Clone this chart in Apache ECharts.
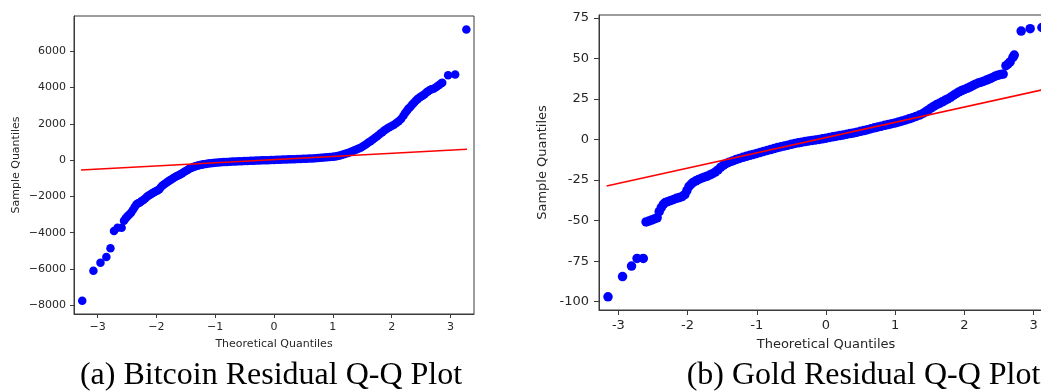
<!DOCTYPE html>
<html>
<head>
<meta charset="utf-8">
<script src="https://cdn.jsdelivr.net/npm/echarts@6/dist/echarts.min.js"></script>
<style>
html,body{margin:0;padding:0;background:#fff;}
#chart{width:1041px;height:392px;}
</style>
</head>
<body>
<div id="chart"></div>
<script>
// ---------- Data ----------
const xTickValues = [-3, -2, -1, 0, 1, 2, 3];
const btcYTicks = [-8000, -6000, -4000, -2000, 0, 2000, 4000, 6000];
const goldYTicks = [-100, -75, -50, -25, 0, 25, 50, 75];

const btcTheoretical = [
  -3.26, -3.07, -2.95, -2.85, -2.78, -2.72, -2.66, -2.59,
  -2.55, -2.52, -2.49, -2.46, -2.43, -2.40, -2.37, -2.34, -2.31, -2.28, -2.25, -2.22,
  -2.19, -2.16, -2.13, -2.10, -2.07, -2.04, -2.01, -1.98, -1.95, -1.92, -1.89, -1.86,
  -1.83, -1.80, -1.77, -1.74, -1.71, -1.68, -1.65, -1.62, -1.59, -1.56, -1.53, -1.50,
  -1.47, -1.44, -1.41, -1.38, -1.35, -1.32, -1.29, -1.26, -1.23, -1.20, -1.16, -1.12,
  -1.08, -1.04, -1.00, -0.95, -0.90, -0.85, -0.80, -0.75, -0.70, -0.65, -0.60, -0.55,
  -0.50, -0.45, -0.40, -0.35, -0.30, -0.25, -0.20, -0.15, -0.10, -0.05, 0.00, 0.05,
  0.10, 0.15, 0.20, 0.25, 0.30, 0.35, 0.40, 0.45, 0.50, 0.55, 0.60, 0.65, 0.70, 0.75,
  0.80, 0.85, 0.90, 0.95, 1.00, 1.04, 1.08, 1.12, 1.16, 1.20, 1.24, 1.28, 1.32, 1.36,
  1.40, 1.44, 1.48, 1.52, 1.56, 1.60, 1.64, 1.68, 1.72, 1.76, 1.80, 1.84, 1.88, 1.92,
  1.96, 2.00, 2.04, 2.08, 2.12, 2.16, 2.20, 2.23, 2.26, 2.29, 2.32, 2.35, 2.38, 2.41,
  2.44, 2.47, 2.50, 2.53, 2.56, 2.59, 2.62, 2.65, 2.68, 2.72, 2.76, 2.80, 2.84, 2.86,
  2.96, 3.08, 3.27
];
const btcSample = [
  -7744, -6092, -5652, -5340, -4863, -3909, -3725, -3725,
  -3340, -3200, -3100, -3000, -2900, -2750, -2600, -2450, -2380, -2330, -2260, -2200,
  -2110, -2020, -1950, -1890, -1830, -1770, -1720, -1670, -1600, -1480, -1390, -1320,
  -1250, -1180, -1110, -1050, -990, -930, -880, -830, -780, -720, -660, -600,
  -540, -480, -430, -390, -350, -320, -295, -270, -250, -230, -210, -190,
  -175, -160, -145, -130, -118, -108, -98, -90, -82, -75, -68, -61,
  -54, -47, -40, -33, -27, -20, -14, -8, -2, 4, 10, 16,
  22, 28, 34, 40, 46, 52, 58, 65, 72, 79, 87, 95, 104, 114,
  125, 138, 152, 168, 186, 205, 228, 255, 290, 330, 375, 420, 470, 525,
  585, 640, 700, 780, 860, 950, 1040, 1130, 1230, 1330, 1440, 1540, 1640, 1730,
  1810, 1880, 1950, 2040, 2140, 2270, 2450, 2600, 2720, 2850, 2940, 3060, 3160, 3270,
  3360, 3440, 3500, 3560, 3630, 3730, 3800, 3860, 3900, 3950, 4030, 4120, 4220, 4260,
  4680, 4720, 7200
];
const btcLineX = [-3.28, 3.28];
const btcLineY = [-550, 600];

const goldTheoretical = [
  -3.15, -2.94, -2.81, -2.73, -2.64,
  -2.60, -2.56, -2.52, -2.48, -2.44, -2.41, -2.38, -2.35, -2.32, -2.28, -2.24, -2.20,
  -2.16, -2.12, -2.08, -2.04, -2.01, -1.98, -1.95, -1.92, -1.88, -1.84, -1.80, -1.76,
  -1.72, -1.68, -1.64, -1.60, -1.56, -1.52, -1.48, -1.44, -1.40, -1.35, -1.30, -1.25,
  -1.20, -1.15, -1.10, -1.05, -1.00, -0.95, -0.90, -0.85, -0.80, -0.75, -0.70, -0.65,
  -0.60, -0.55, -0.50, -0.45, -0.40, -0.35, -0.30, -0.25, -0.20, -0.15, -0.10, -0.05,
  0.00, 0.05, 0.10, 0.15, 0.20, 0.25, 0.30, 0.35, 0.40, 0.45, 0.50, 0.55, 0.60, 0.65,
  0.70, 0.75, 0.80, 0.85, 0.90, 0.95, 1.00, 1.05, 1.10, 1.15, 1.20, 1.25, 1.30, 1.35,
  1.40, 1.44, 1.48, 1.52, 1.56, 1.60, 1.64, 1.68, 1.72, 1.76, 1.80, 1.84, 1.88, 1.92,
  1.96, 2.00, 2.04, 2.08, 2.12, 2.16, 2.20, 2.24, 2.28, 2.32, 2.36, 2.40, 2.44, 2.48,
  2.52, 2.56, 2.60, 2.63, 2.66, 2.70, 2.72,
  2.82, 2.95, 3.12
];
const goldSample = [
  -97.0, -84.5, -78.0, -73.3, -73.3,
  -50.8, -50.3, -49.7, -49.0, -48.3, -44.5, -42.0, -40.0, -38.8, -38.2, -37.6, -37.0,
  -36.3, -35.8, -35.2, -34.0, -31.5, -29.0, -27.6, -26.5, -25.5, -24.6, -23.9, -23.3,
  -22.7, -21.9, -21.1, -20.1, -18.8, -17.1, -15.8, -14.8, -14.0, -13.2, -12.4, -11.7,
  -11.0, -10.4, -9.8, -9.2, -8.6, -8.0, -7.4, -6.8, -6.2, -5.6, -5.0, -4.5,
  -4.0, -3.5, -3.0, -2.5, -2.1, -1.7, -1.3, -0.9, -0.6, -0.3, 0.0, 0.4,
  0.8, 1.2, 1.6, 2.0, 2.4, 2.8, 3.2, 3.6, 4.0, 4.5, 5.0, 5.5, 6.0, 6.6,
  7.2, 7.7, 8.2, 8.7, 9.2, 9.7, 10.2, 10.8, 11.4, 12.0, 12.7, 13.4, 14.2, 15.0,
  16.0, 17.0, 18.2, 19.4, 20.5, 21.5, 22.3, 23.2, 24.1, 25.0, 26.0, 27.1, 28.2, 29.3,
  30.1, 30.8, 31.5, 32.3, 33.2, 34.1, 34.8, 35.3, 35.9, 36.6, 37.3, 38.1, 38.9, 39.5,
  40.0, 40.3, 45.5, 46.5, 47.8, 50.5, 52.0,
  66.8, 68.3, 69.0
];
const goldLineX = [-3.17, 3.17];
const goldLineY = [-28.7, 31.0];

// ---------- Build ----------
const zip = (a, b) => a.map((v, i) => [v, b[i]]);
const minusFmt = v => String(v).replace('-', '\u2212');
const hyphenFmt = v => String(v);

function makeX(gi, min, max, fs, margin, nameGap, tickLen, fmt) {
  return {
    gridIndex: gi, type: 'value', min: min, max: max,
    splitLine: { show: false },
    axisLine: { onZero: false, lineStyle: { color: '#3a3a3a', width: 1 } },
    axisTick: { customValues: xTickValues, length: tickLen, lineStyle: { color: '#3a3a3a' } },
    axisLabel: { customValues: xTickValues, formatter: fmt, fontFamily: 'DejaVu Sans',
      fontSize: fs, color: '#262626', margin: margin },
    name: 'Theoretical Quantiles', nameLocation: 'middle', nameGap: nameGap,
    nameTextStyle: { fontFamily: 'DejaVu Sans', fontSize: fs, color: '#262626' }
  };
}
function makeY(gi, min, max, ticks, fs, margin, nameGap, tickLen, fmt) {
  return {
    gridIndex: gi, type: 'value', min: min, max: max,
    splitLine: { show: false },
    axisLine: { onZero: false, lineStyle: { color: '#3a3a3a', width: 1 } },
    axisTick: { customValues: ticks, length: tickLen, lineStyle: { color: '#3a3a3a' } },
    axisLabel: { customValues: ticks, formatter: fmt, fontFamily: 'DejaVu Sans',
      fontSize: fs, color: '#262626', margin: margin },
    name: 'Sample Quantiles', nameLocation: 'middle', nameGap: nameGap, nameRotate: 90,
    nameTextStyle: { fontFamily: 'DejaVu Sans', fontSize: fs, color: '#262626' }
  };
}

const chart = echarts.init(document.getElementById('chart'), null, { renderer: 'canvas' });
chart.setOption({
  animation: false,
  backgroundColor: '#ffffff',
  grid: [
    { left: 74, top: 16, width: 400, height: 298, show: true, borderColor: '#3a3a3a',
      borderWidth: 1, backgroundColor: 'transparent', containLabel: false, outerBoundsMode: 'none' },
    { left: 599, top: 15, width: 454, height: 295, show: true, borderColor: '#3a3a3a',
      borderWidth: 1, backgroundColor: 'transparent', containLabel: false, outerBoundsMode: 'none' }
  ],
  xAxis: [
    makeX(0, -3.4, 3.4, 11, 8, 25, 4, minusFmt),
    makeX(1, -3.28, 3.28, 13, 9, 28, 5, hyphenFmt)
  ],
  yAxis: [
    makeY(0, -8480, 7940, btcYTicks, 11, 8, 52, 4, minusFmt),
    makeY(1, -105.1, 76.7, goldYTicks, 13, 10, 50, 5, hyphenFmt)
  ],
  series: [
    { type: 'scatter', xAxisIndex: 0, yAxisIndex: 0, data: zip(btcTheoretical, btcSample),
      symbolSize: 8.5, itemStyle: { color: '#0000ff', opacity: 1 }, z: 2, silent: true },
    { type: 'line', xAxisIndex: 0, yAxisIndex: 0, data: zip(btcLineX, btcLineY),
      showSymbol: false, lineStyle: { color: '#ff0000', width: 1.5 }, z: 3, silent: true },
    { type: 'scatter', xAxisIndex: 1, yAxisIndex: 1, data: zip(goldTheoretical, goldSample),
      symbolSize: 9.5, itemStyle: { color: '#0000ff', opacity: 1 }, z: 2, silent: true },
    { type: 'line', xAxisIndex: 1, yAxisIndex: 1, data: zip(goldLineX, goldLineY),
      showSymbol: false, lineStyle: { color: '#ff0000', width: 1.5 }, z: 3, silent: true }
  ],
  graphic: [
    { type: 'text', x: 271, y: 376, silent: true,
      style: { text: '(a) Bitcoin Residual Q-Q Plot', fontFamily: 'Liberation Serif',
        fontSize: 32, fill: '#000', align: 'center', verticalAlign: 'middle' } },
    { type: 'text', x: 863.5, y: 376, silent: true,
      style: { text: '(b) Gold Residual Q-Q Plot', fontFamily: 'Liberation Serif',
        fontSize: 32, fill: '#000', align: 'center', verticalAlign: 'middle' } }
  ]
});
</script>
</body>
</html>
